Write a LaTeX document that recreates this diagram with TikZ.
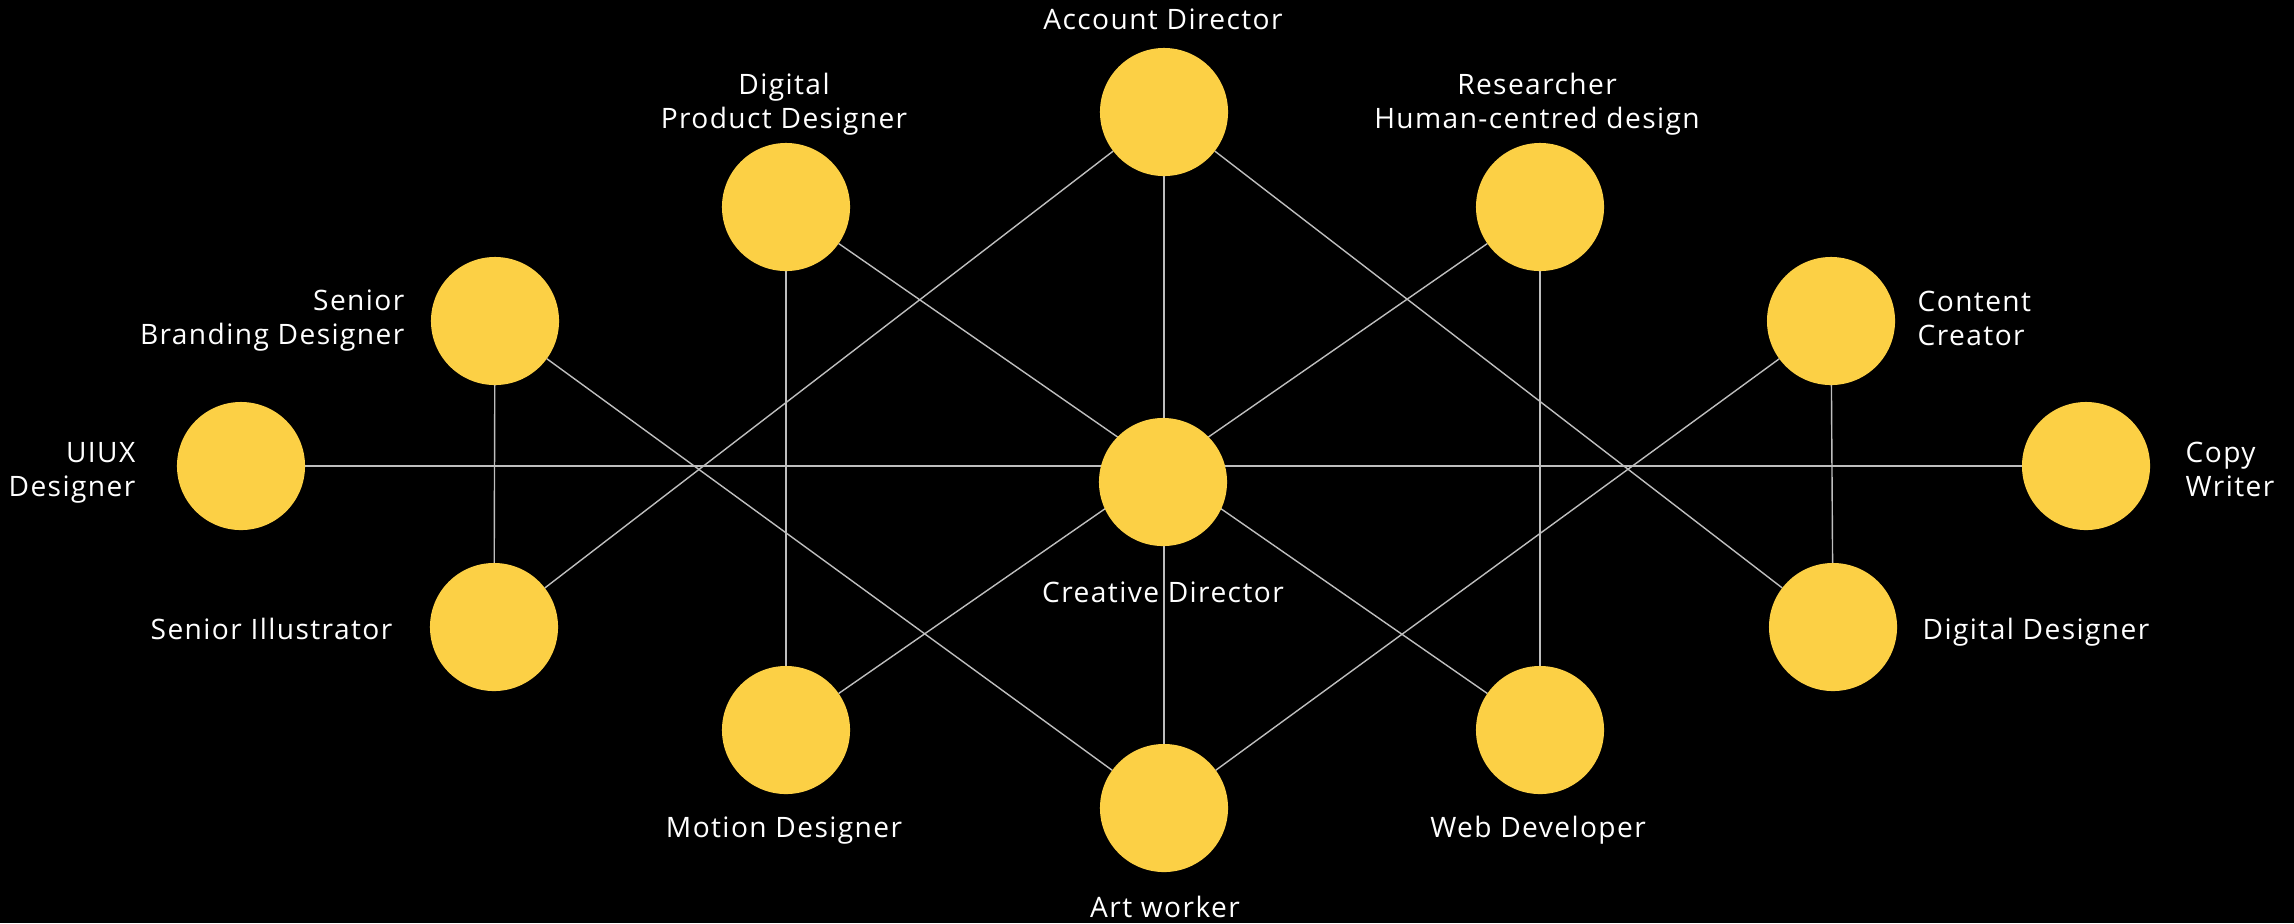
\documentclass[tikz,border=0pt]{standalone}
\usepackage{fontspec}
\setmainfont{Open Sans}[LetterSpace=5]
\definecolor{roleyellow}{RGB}{252, 208, 69}
\definecolor{linkgray}{RGB}{190, 190, 190}
\pgfdeclarelayer{canvas}
\pgfdeclarelayer{edges}
\pgfsetlayers{canvas,edges,main}
\tikzset{
  role/.style={circle, fill=roleyellow, minimum size=1.28cm, inner sep=0pt, outer sep=0pt},
  tag/.style={text=white, font=\fontsize{8}{9.4}\selectfont, inner sep=0pt},
  link/.style={draw=linkgray, line width=0.4pt}
}
\begin{document}
\begin{tikzpicture}[x=0.01cm, y=-0.01cm]
  % Canvas
  \begin{pgfonlayer}{canvas}
    \fill[black] (0,0) rectangle (2294,923);
  \end{pgfonlayer}
  \useasboundingbox (0,0) rectangle (2294,923);

  % Roles
  \node[role] (ad)   at (1164,112) {};
  \node[role] (dpd)  at (786,207)  {};
  \node[role] (res)  at (1540,207) {};
  \node[role] (sbd)  at (495,321)  {};
  \node[role] (cc)   at (1831,321) {};
  \node[role] (uiux) at (241,466)  {};
  \node[role] (cd)   at (1163,482) {};
  \node[role] (copy) at (2086,466) {};
  \node[role] (si)   at (494,627)  {};
  \node[role] (dd)   at (1833,627) {};
  \node[role] (md)   at (786,730)  {};
  \node[role] (wd)   at (1540,730) {};
  \node[role] (aw)   at (1164,808) {};

  % Labels (two-line labels sit on their last line)
  \node[tag, anchor=base] (adlab) at (1163,29) {Account Director};
  \node[tag, anchor=base, align=center] (dpdlab) at (784,128) {Digital\\Product Designer};
  \node[tag, anchor=base, align=center] (reslab) at (1537,128) {Researcher\\Human-centred design};
  \node[tag, anchor=base east, align=right] (sbdlab) at (405,344) {Senior\\Branding Designer};
  \node[tag, anchor=base west, align=left] (cclab) at (1917,345) {Content\\Creator};
  \node[tag, anchor=base east, align=right] (uiuxlab) at (136,496) {UIUX\\Designer};
  \node[tag, anchor=base west, align=left] (copylab) at (2185,496) {Copy\\Writer};
  \node[tag, anchor=base] (cdlab) at (1163,602) {Creative Director};
  \node[tag, anchor=base east] (silab) at (393,639) {Senior Illustrator};
  \node[tag, anchor=base west] (ddlab) at (1922,639) {Digital Designer};
  \node[tag, anchor=base] (mdlab) at (784,837) {Motion Designer};
  \node[tag, anchor=base] (wdlab) at (1538,837) {Web Developer};
  \node[tag, anchor=base] (awlab) at (1165,917) {Art worker};

  % Links
  \begin{pgfonlayer}{edges}
    \draw[link] (ad) -- (aw);
    \draw[link] (uiux) -- (copy);
    \draw[link] (ad) -- (si);
    \draw[link] (ad) -- (dd);
    \draw[link] (dpd) -- (wd);
    \draw[link] (res) -- (md);
    \draw[link] (sbd) -- (aw);
    \draw[link] (cc) -- (aw);
    \draw[link] (sbd) -- (si);
    \draw[link] (dpd) -- (md);
    \draw[link] (res) -- (wd);
    \draw[link] (cc) -- (dd);
  \end{pgfonlayer}
\end{tikzpicture}
\end{document}
